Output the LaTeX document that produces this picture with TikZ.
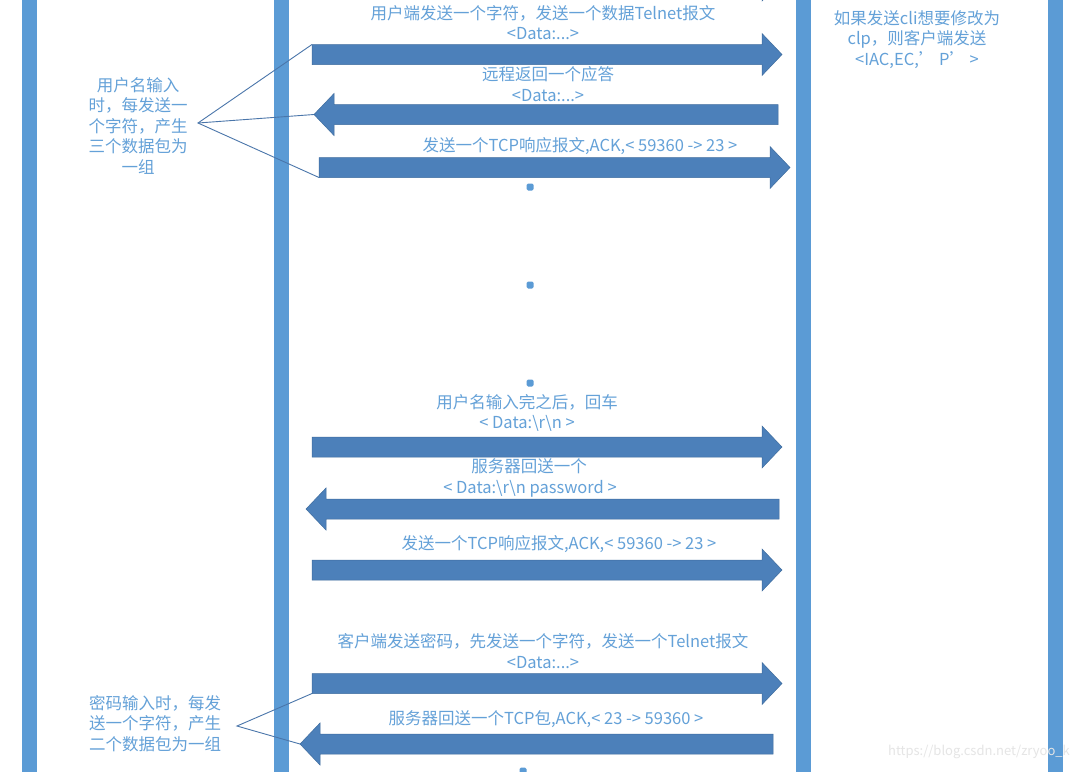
\documentclass[tikz,border=0pt]{standalone}
\usepackage{fontspec}
\setmainfont{Noto Sans CJK SC}
\usepackage{tikz}
\usetikzlibrary{calc}
\definecolor{BarColor}{RGB}{91,155,213}
\definecolor{ArrowFill}{RGB}{76,128,186}
\definecolor{ArrowEdge}{RGB}{62,108,158}
\definecolor{LabelColor}{RGB}{100,161,216}
\definecolor{LeaderColor}{RGB}{74,118,170}
\tikzset{
  bar/.style={fill=BarColor},
  arrowbody/.style={fill=ArrowFill, draw=ArrowEdge, line width=0.5pt},
  msg/.style={text=LabelColor, font=\fontsize{16.5}{19.5}\selectfont, inner sep=0pt},
  note/.style={msg, align=center},
  leader/.style={draw=LeaderColor, line width=0.9pt},
  dot/.style={fill=BarColor, rounded corners=1.5pt}
}
% block arrows: name, tail x, tip x, centre y
\newcommand{\blockarrowR}[4]{%
  \fill[arrowbody] (#2,#4-10) -- (#3-20,#4-10) -- (#3-20,#4-21) -- (#3,#4)
    -- (#3-20,#4+21) -- (#3-20,#4+10) -- (#2,#4+10) -- cycle;
  \coordinate (#1-tt) at (#2,#4-10);
  \coordinate (#1-tb) at (#2,#4+10);
  \coordinate (#1-tip) at (#3,#4);
}
\newcommand{\blockarrowL}[4]{%
  \fill[arrowbody] (#2,#4-10) -- (#3+20,#4-10) -- (#3+20,#4-21) -- (#3,#4)
    -- (#3+20,#4+21) -- (#3+20,#4+10) -- (#2,#4+10) -- cycle;
  \coordinate (#1-tt) at (#2,#4-10);
  \coordinate (#1-tb) at (#2,#4+10);
  \coordinate (#1-tip) at (#3,#4);
}
\begin{document}
\begin{tikzpicture}[x=1pt, y=-1pt]
  \useasboundingbox (0,0) rectangle (1078,771);
  \fill[white] (0,0) rectangle (1078,771);
  % life lines
  \foreach \bx in {22,274,796,1048}
    \fill[bar] (\bx,-5) rectangle (\bx+14.5,776);
  % messages
  \blockarrowR{a0}{312}{782}{-20}
  \blockarrowR{a1}{312}{782}{54.5}
  \blockarrowL{a2}{778}{314}{114.5}
  \blockarrowR{a3}{319}{790}{167.5}
  \blockarrowR{a4}{312}{782}{447}
  \blockarrowL{a5}{779}{306}{509}
  \blockarrowR{a6}{312}{782}{570}
  \blockarrowR{a7}{312}{782}{683.5}
  \blockarrowL{a8}{773}{300}{744}
  \node[msg] (m1a) at (543,13) {用户端发送一个字符，发送一个数据Telnet报文};
  \node[msg] (m1b) at (543,34) {<Data:...>};
  \node[msg] (m2a) at (548,74) {远程返回一个应答};
  \node[msg] (m2b) at (548,96) {<Data:...>};
  \node[msg] (m3) at (580,146) {发送一个TCP响应报文,ACK,< 59360 -> 23 >};
  \node[msg] (m4a) at (527,402) {用户名输入完之后，回车};
  \node[msg] (m4b) at (527,423) {< Data:\textbackslash r\textbackslash n >};
  \node[msg] (m5a) at (529,466) {服务器回送一个};
  \node[msg] (m5b) at (530,489) {< Data:\textbackslash r\textbackslash n password >};
  \node[msg] (m6) at (559,544) {发送一个TCP响应报文,ACK,< 59360 -> 23 >};
  \node[msg] (m7a) at (543,641) {客户端发送密码，先发送一个字符，发送一个Telnet报文};
  \node[msg] (m7b) at (543,663) {<Data:...>};
  \node[msg] (m8) at (546,719) {服务器回送一个TCP包,ACK,< 23 -> 59360 >};
  % continuation dots
  \foreach \dy in {187,285,383}
    \fill[dot] (526.5,\dy-3.5) rectangle (533.5,\dy+3.5);
  \fill[dot] (519.5,767.5) rectangle (526.5,774.5);
  % notes
  \node[note] (user) at (138,126) {用户名输入\\[1pt]时，每发送一\\[1pt]个字符，产生\\[1pt]三个数据包为\\[1pt]一组};
  \node[note] (pwd) at (155,723.5) {密码输入时，每发\\[1pt]送一个字符，产生\\[1pt]二个数据包为一组};
  \node[note] (cli) at (917,39.5) {如果发送cli想要修改为\\[1pt]clp，则客户端发送\\[1pt]<IAC,EC,’\ P’\ >};
  \coordinate (userc) at (198,123);
  \coordinate (pwdc) at (237,726);
  \draw[leader] (a1-tt) -- (userc) -- (a3-tb);
  \draw[leader] (userc) -- (a2-tip);
  \draw[leader] (a7-tb) -- (pwdc) -- (a8-tip);
  % watermark
  \node[text=black!10, font=\fontsize{13}{15}\selectfont, inner sep=0pt, anchor=east] (wm) at (1070,752) {https://blog.csdn.net/zryoo\_k};
\end{tikzpicture}
\end{document}
